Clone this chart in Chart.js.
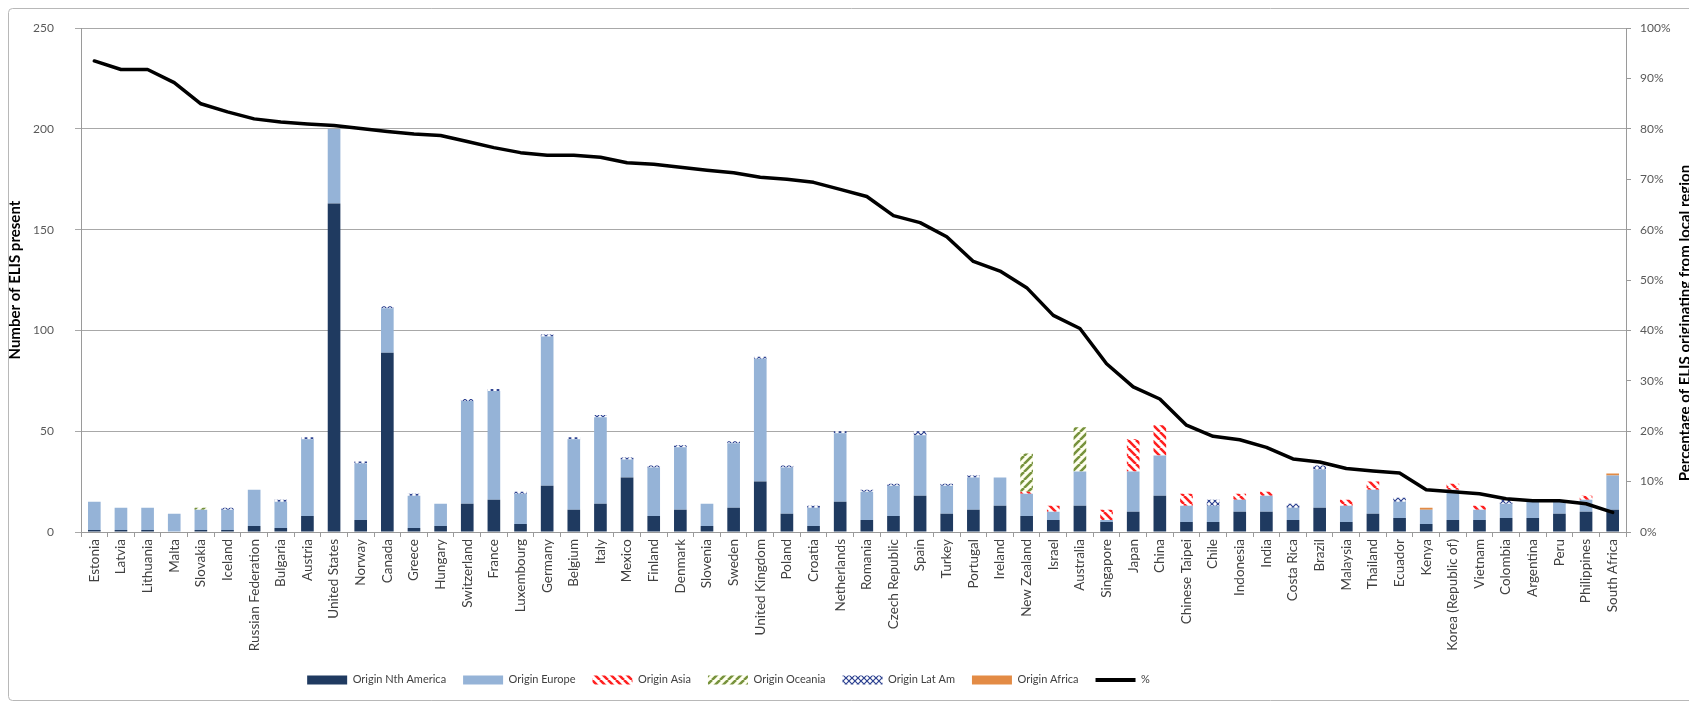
<!DOCTYPE html>
<html>
<head>
<meta charset="utf-8">
<script src="https://cdn.jsdelivr.net/npm/chart.js@4.4.0/dist/chart.umd.min.js"></script>
<style>
  html, body { margin: 0; padding: 0; background: #fff; }
  canvas { display: block; }
</style>
</head>
<body>
<canvas id="c" width="1689" height="706"></canvas>
<script>
const categories = ["Estonia","Latvia","Lithuania","Malta","Slovakia","Iceland","Russian Federation","Bulgaria","Austria","United States","Norway","Canada","Greece","Hungary","Switzerland","France","Luxembourg","Germany","Belgium","Italy","Mexico","Finland","Denmark","Slovenia","Sweden","United Kingdom","Poland","Croatia","Netherlands","Romania","Czech Republic","Spain","Turkey","Portugal","Ireland","New Zealand","Israel","Australia","Singapore","Japan","China","Chinese Taipei","Chile","Indonesia","India","Costa Rica","Brazil","Malaysia","Thailand","Ecuador","Kenya","Korea (Republic of)","Vietnam","Colombia","Argentina","Peru","Philippines","South Africa"];

const originNthAmerica = [1,1,1,0,1,1,3,2,8,163, 6,89,2,3,14,16,4,23,11,14, 27,8,11,3,12,25,9,3,15,6, 8,18,9,11,13,8,6,13,5,10, 18,5,5,10,10,6,12,5,9,7, 4,6,6,7,7,9,10,11];
const originEurope     = [14,11,11,9,10,10,18,13,38,37, 28,22,16,11,51,54,15,74,35,43, 9,24,31,11,32,61,23,9,34,14, 15,30,14,16,14,11,4,17,1,20, 20,8,8,6,8,6,19,8,12,8, 7,15,5,7,8,6,6,17];
const originAsia       = [0,0,0,0,0,0,0,0,0,0, 0,0,0,0,0,0,0,0,0,0, 0,0,0,0,0,0,0,0,0,0, 0,0,0,0,0,1,3,0,5,16, 15,6,0,3,2,0,0,3,4,0, 0,3,2,0,0,0,2,0];
const originOceania    = [0,0,0,0,1,0,0,0,0,0, 0,0,0,0,0,0,0,0,0,0, 0,0,0,0,0,0,0,0,0,0, 0,0,0,0,0,19,0,22,0,0, 0,0,0,0,0,0,0,0,0,0, 0,0,0,0,0,0,0,0];
const originLatAm      = [0,0,0,0,0,1,0,1,1,0, 1,1,1,0,1,1,1,1,1,1, 1,1,1,0,1,1,1,1,1,1, 1,2,1,1,0,0,0,0,0,0, 0,0,3,0,0,2,2,0,0,2, 0,0,0,2,0,0,0,0];
const originAfrica     = [0,0,0,0,0,0,0,0,0,0, 0,0,0,0,0,0,0,0,0,0, 0,0,0,0,0,0,0,0,0,0, 0,0,0,0,0,0,0,0,0,0, 0,0,0,0,0,0,0,0,0,0, 1,0,0,0,0,0,0,1];
const percentLocal     = [93.5,91.8,91.8,89.2,85,83.4,82,81.4,81,80.7, 80.1,79.5,79,78.7,77.5,76.3,75.3,74.8,74.8,74.4, 73.3,73,72.4,71.8,71.3,70.4,70,69.4,68,66.6, 62.8,61.4,58.6,53.7,51.8,48.5,43,40.4,33.4,28.8, 26.4,21.2,19,18.3,16.8,14.5,13.9,12.6,12.1,11.7, 8.4,8,7.6,6.6,6.2,6.2,5.6,3.9];

const leftTicks = [0,50,100,150,200,250];
const rightTicks = [0,10,20,30,40,50,60,70,80,90,100];

const FONT = "Lato, 'Open Sans', 'Liberation Sans', sans-serif";

function stripes(color, dir, bg) {
  const c = document.createElement('canvas');
  c.width = 8; c.height = 8;
  const g = c.getContext('2d');
  g.fillStyle = bg; g.fillRect(0, 0, 8, 8);
  g.strokeStyle = color; g.lineWidth = 2.6;
  g.beginPath();
  for (let k = -1; k <= 1; k++) {
    if (dir === '\\') { g.moveTo(k * 8, 0); g.lineTo(k * 8 + 8, 8); }
    else { g.moveTo(k * 8, 8); g.lineTo(k * 8 + 8, 0); }
  }
  g.stroke();
  return g.createPattern(c, 'repeat');
}
function crosses(color, bg) {
  const c = document.createElement('canvas');
  c.width = 6; c.height = 6;
  const g = c.getContext('2d');
  g.fillStyle = bg; g.fillRect(0, 0, 6, 6);
  g.strokeStyle = color; g.lineWidth = 1.2;
  g.beginPath();
  g.moveTo(0, 0); g.lineTo(6, 6);
  g.moveTo(6, 0); g.lineTo(0, 6);
  g.stroke();
  return g.createPattern(c, 'repeat');
}

const cNA = '#1F3A60';
const cEU = '#95B3D7';
const pAsia = stripes('#FF2020', '\\', '#ffffff');
const pOce = stripes('#77933C', '/', '#FFFFF0');
const pLat = crosses('#2A3F8F', '#ffffff');
const cAfr = '#E38B45';

const barCommon = { type: 'bar', stack: 's', borderWidth: 0, barPercentage: 0.95, categoryPercentage: 0.5, yAxisID: 'y', order: 1 };

const LEGEND_PAD = 17;

const frame = {
  id: 'frame',
  beforeDraw(chart) {
    const ctx = chart.ctx;
    ctx.save();
    ctx.fillStyle = '#fff';
    ctx.fillRect(0, 0, chart.width, chart.height);
    ctx.strokeStyle = '#b8b8b8';
    ctx.lineWidth = 1;
    ctx.beginPath();
    ctx.roundRect(8.5, 8.5, 1720, 692, 4);
    ctx.stroke();
    ctx.restore();
  },
  afterDraw(chart) {
    const ctx = chart.ctx;
    ctx.save();
    ctx.translate(1685, 323);
    ctx.rotate(-Math.PI / 2);
    ctx.font = "bold 15px " + FONT;
    ctx.fillStyle = '#000';
    ctx.textAlign = 'center';
    ctx.textBaseline = 'middle';
    ctx.fillText('Percentage of ELIS originating from local region', 0, 0);
    ctx.restore();
  },
  afterLayout(chart) {
    const lg = chart.legend;
    if (lg) {
      lg.left -= 116; lg.right -= 116;
      lg.top = 681 - 6.6 - LEGEND_PAD;
      lg.bottom = lg.top + 60;
      lg.height = 60;
    }
  }
};

new Chart(document.getElementById('c'), {
  data: {
    labels: categories,
    datasets: [
      Object.assign({ label: 'Origin Nth America', data: originNthAmerica, backgroundColor: cNA }, barCommon),
      Object.assign({ label: 'Origin Europe', data: originEurope, backgroundColor: cEU }, barCommon),
      Object.assign({ label: 'Origin Asia', data: originAsia, backgroundColor: pAsia }, barCommon),
      Object.assign({ label: 'Origin Oceania', data: originOceania, backgroundColor: pOce }, barCommon),
      Object.assign({ label: 'Origin Lat Am', data: originLatAm, backgroundColor: pLat }, barCommon),
      Object.assign({ label: 'Origin Africa', data: originAfrica, backgroundColor: cAfr }, barCommon),
      { type: 'line', label: '%', data: percentLocal, yAxisID: 'y1', borderColor: '#000', backgroundColor: '#000',
        borderWidth: 3.5, pointRadius: 0, tension: 0, order: 0, borderJoinStyle: 'round', borderCapStyle: 'round' }
    ]
  },
  options: {
    responsive: false,
    animation: false,
    devicePixelRatio: 1,
    layout: { padding: { left: 0, right: 0, top: 26, bottom: 8 } },
    plugins: {
      tooltip: { enabled: false },
      legend: {
        position: 'bottom',
        maxHeight: 30,
        labels: {
          usePointStyle: true,
          pointStyleWidth: 40,
          boxHeight: 9,
          padding: LEGEND_PAD,
          color: '#404040',
          font: { family: FONT, size: 11 },
          generateLabels(chart) {
            return chart.data.datasets.map((ds, i) => {
              const isLine = ds.type === 'line';
              return {
                text: ds.label,
                fillStyle: ds.backgroundColor,
                strokeStyle: isLine ? '#000' : 'rgba(0,0,0,0)',
                lineWidth: isLine ? 4 : 0,
                pointStyle: isLine ? 'line' : 'rect',
                hidden: false,
                datasetIndex: i,
                fontColor: '#404040'
              };
            });
          }
        }
      }
    },
    scales: {
      x: {
        stacked: true,
        grid: { display: true, drawOnChartArea: false, drawTicks: true, tickLength: 5, color: '#9a9a9a', offset: true },
        border: { color: '#9a9a9a' },
        ticks: { autoSkip: false, minRotation: 90, maxRotation: 90, padding: 2, color: '#404040', font: { family: FONT, size: 13.5 } },
        afterFit(s) { s.height = 136; }
      },
      y: {
        stacked: true,
        position: 'left',
        min: 0, max: 250,
        afterBuildTicks(s) { s.ticks = leftTicks.map(v => ({ value: v })); },
        grid: { color: '#a8a8a8', tickLength: 6 },
        border: { color: '#9a9a9a' },
        ticks: { padding: 21, color: '#595959', font: { family: FONT, size: 12 } },
        title: { display: true, text: 'Number of ELIS present', color: '#000', font: { family: FONT, size: 15, weight: 'bold' }, padding: { top: 6, bottom: 0 } },
        afterFit(s) { s.width = 81; }
      },
      y1: {
        position: 'right',
        min: 0, max: 100,
        afterBuildTicks(s) { s.ticks = rightTicks.map(v => ({ value: v })); },
        grid: { drawOnChartArea: false, color: '#9a9a9a', tickLength: 5 },
        border: { color: '#9a9a9a' },
        ticks: { padding: 9, color: '#595959', font: { family: FONT, size: 12 }, callback: v => v + '%' },
        afterFit(s) { s.width = 63; }
      }
    }
  },
  plugins: [frame]
});
</script>
</body>
</html>
